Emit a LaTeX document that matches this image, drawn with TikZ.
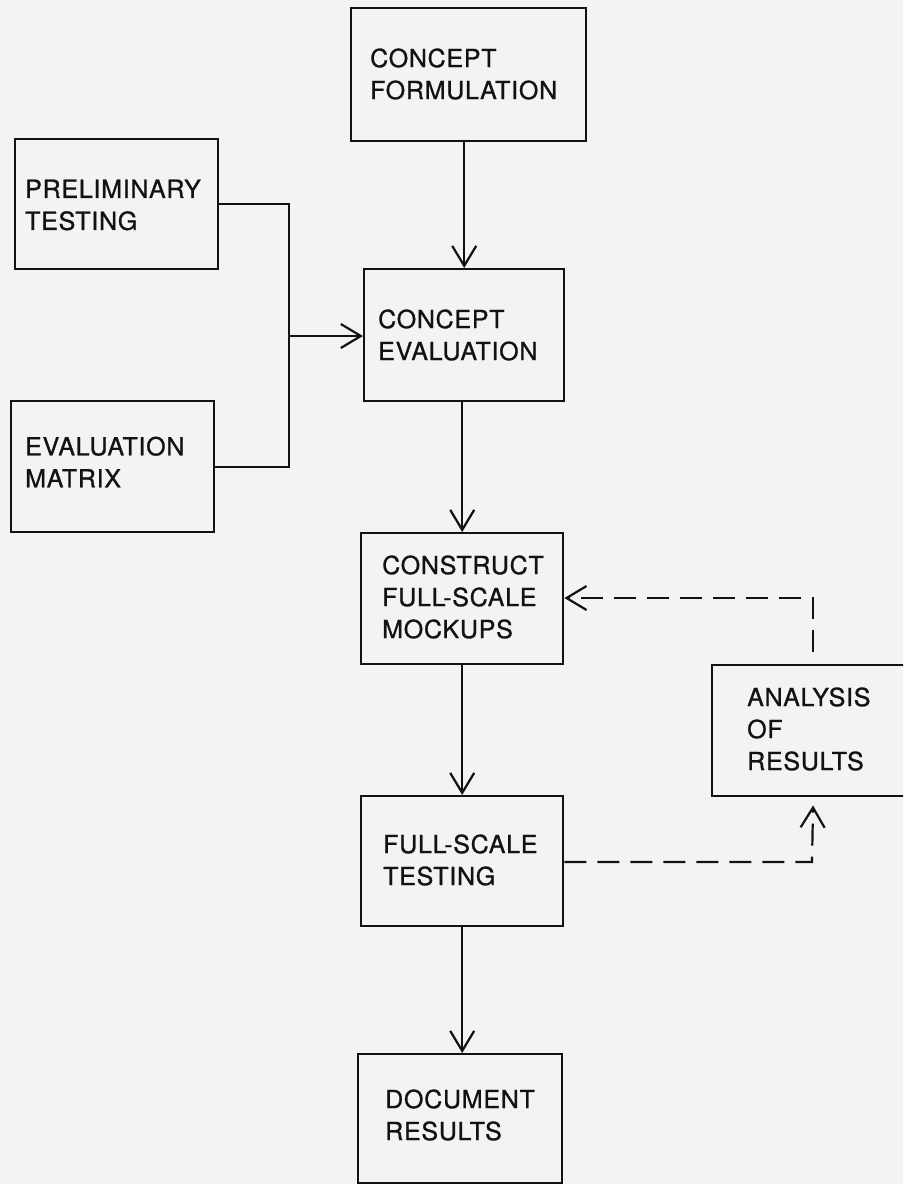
\documentclass[tikz,border=0pt]{standalone}
\usepackage{fontspec}
\setmainfont{TeX Gyre Heros}[FakeBold=0.9, LetterSpace=3]
\usetikzlibrary{arrows.meta}
\definecolor{paper}{RGB}{243,243,241}
\definecolor{ink}{RGB}{18,18,18}
\begin{document}
\begin{tikzpicture}[x=1pt,y=-1pt,
  boxnode/.style={draw=ink, line width=2.4pt, anchor=north west, inner sep=0pt},
  lbl/.style={anchor=west, align=left, inner sep=0pt, text=ink, font=\fontsize{25}{32}\selectfont},
  conn/.style={draw=ink, line width=2.2pt},
  arr/.style={conn, -{Straight Barb[length=20pt,width=24pt]}},
  dsh/.style={dash pattern=on 22pt off 11pt}]
\useasboundingbox (0,0) rectangle (903,1184);
\clip (0,0) rectangle (903,1184);
\fill[paper] (0,0) rectangle (903,1184);

% boxes
\node[boxnode, minimum width=235pt, minimum height=133pt] (cf) at (350,7) {};
\node[boxnode, minimum width=203pt, minimum height=130pt] (pt) at (14,138) {};
\node[boxnode, minimum width=203pt, minimum height=131pt] (em) at (10,400) {};
\node[boxnode, minimum width=200pt, minimum height=132pt] (ce) at (363,268) {};
\node[boxnode, minimum width=202pt, minimum height=131pt] (cm) at (360,532) {};
\node[boxnode, minimum width=202pt, minimum height=130pt] (fst) at (360,795) {};
\node[boxnode, minimum width=204pt, minimum height=129pt] (dr) at (357,1053) {};
\node[boxnode, minimum width=202pt, minimum height=131pt] (ar) at (711,664) {};

% labels
\node[lbl] (cftext) at (370,74) {CONCEPT\\FORMULATION};
\node[lbl] (pttext) at (25,205) {PRELIMINARY\\TESTING};
\node[lbl] (emtext) at (25,462) {EVALUATION\\MATRIX};
\node[lbl] (cetext) at (378,335) {CONCEPT\\EVALUATION};
\node[lbl] (cmtext) at (382,597) {CONSTRUCT\\FULL-SCALE\\MOCKUPS};
\node[lbl] (fsttext) at (383,860) {FULL-SCALE\\TESTING};
\node[lbl] (drtext) at (385,1115) {DOCUMENT\\RESULTS};
\node[lbl] (artext) at (747,729) {ANALYSIS\\OF\\RESULTS};

% main flow
\draw[arr] (ce.north |- cf.south) -- (ce.north);
\draw[arr] (cm.north |- ce.south) -- (cm.north);
\draw[arr] (fst.north |- cm.south) -- (fst.north);
\draw[arr] (fst.south) -- (fst.south |- dr.north);

% inputs to concept evaluation
\coordinate (j) at (289,336);
\draw[conn] (pt.east) -- (pt.east -| j) -- (em.east -| j) -- (em.east);
\draw[arr] (j) -- (ce.west |- j);

% feedback loop
\coordinate (c1) at (812,598);
\coordinate (c2) at (812,862);
\draw[arr, dsh, shorten <=12pt] (ar.north) -- (ar.north |- c1) -- (cm.east |- c1);
\draw[arr, dsh, shorten >=8pt] (fst.east |- c2) -- (c2) -- (ar.south);
\end{tikzpicture}
\end{document}
